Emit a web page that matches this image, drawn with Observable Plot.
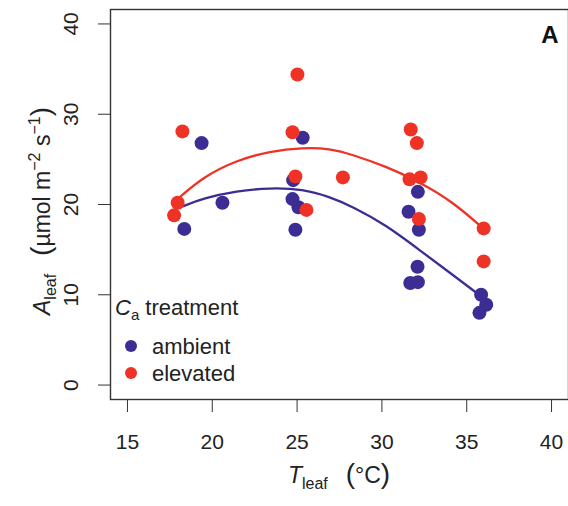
<!DOCTYPE html>
<html><head><meta charset="utf-8">
<script src="https://cdn.jsdelivr.net/npm/d3@7"></script>
<script src="https://cdn.jsdelivr.net/npm/@observablehq/plot@0.6"></script>
<style>
body{margin:0;background:#fff;}
svg{font-family:"Liberation Sans",Arial,Helvetica,sans-serif;}
</style>
</head><body><div id="chart"></div>
<script>
const treatments = ["ambient", "elevated"];
const colors = ["#3b2d93", "#ee3225"];
const xTicks = [15, 20, 25, 30, 35, 40];
const yTicks = [0, 10, 20, 30, 40];

const ambientT = [18.35, 19.37, 20.6, 24.77, 24.73, 25.08, 24.9, 25.33, 31.57, 32.12, 32.18, 32.1, 31.67, 32.12, 35.85, 36.15, 35.75];
const ambientA = [17.3, 26.8, 20.2, 22.7, 20.6, 19.7, 17.2, 27.4, 19.2, 21.4, 17.2, 13.1, 11.3, 11.4, 10.0, 8.9, 8.0];
const elevatedT = [18.24, 17.96, 17.75, 25.02, 24.73, 24.9, 25.55, 27.7, 31.7, 32.06, 31.63, 32.28, 32.18, 36.0, 36.0];
const elevatedA = [28.1, 20.2, 18.8, 34.4, 28.0, 23.1, 19.4, 23.0, 28.3, 26.8, 22.8, 23.0, 18.4, 17.35, 13.7];

const ambientFitT = [18.2, 19.47, 21.43, 23.4, 25.35, 26.9, 28.3, 30.26, 32.22, 34.18, 35.8];
const ambientFitA = [19.75, 20.7, 21.5, 21.85, 21.7, 20.85, 19.75, 17.7, 14.95, 12.2, 9.9];
const elevatedFitT = [17.95, 19.47, 21.43, 23.4, 25.35, 26.9, 28.3, 30.26, 32.22, 34.18, 36.0];
const elevatedFitA = [20.6, 23.07, 24.9, 25.9, 26.3, 26.2, 25.5, 24.2, 22.5, 20.3, 17.3];

const pts = [
  ...ambientT.map((t, i) => ({T: t, A: ambientA[i], g: treatments[0]})),
  ...elevatedT.map((t, i) => ({T: t, A: elevatedA[i], g: treatments[1]}))
];
const fits = [
  ...ambientFitT.map((t, i) => ({T: t, A: ambientFitA[i], g: treatments[0]})),
  ...elevatedFitT.map((t, i) => ({T: t, A: elevatedFitA[i], g: treatments[1]}))
];

const plot = Plot.plot({
  width: 568, height: 506,
  marginLeft: 110, marginRight: 0, marginTop: 9, marginBottom: 107,
  style: {fontFamily: '"Liberation Sans", Arial, sans-serif', background: "#fff"},
  x: {domain: [14, 41]},
  y: {domain: [-1.6, 41.6]},
  color: {domain: treatments, range: colors},
  marks: [
    Plot.axisX({ticks: xTicks, tickSize: 13, tickPadding: 22, fontSize: 21, label: null, stroke: "#333", color: "#222"}),
    Plot.axisY({ticks: yTicks, tickSize: 12, tickPadding: 21, tickRotate: -90, fontSize: 21, label: null, stroke: "#333", color: "#222"}),
    Plot.line(fits, {x: "T", y: "A", stroke: "g", z: "g", curve: "basis", strokeWidth: 2.3}),
    Plot.dot(pts, {x: "T", y: "A", fill: "g", r: 7}),
    Plot.text(["A"], {frameAnchor: "top-right", dx: -10, dy: 16, text: d => d, fontSize: 24, fontWeight: "bold", fill: "#111"}),
    Plot.frame({stroke: "#333", strokeWidth: 1.4})
  ]
});

const svg = d3.select(plot);
const xs = plot.scale("x").range, ys = plot.scale("y").range;
const cx = (xs[0] + xs[1]) / 2, cy = (ys[0] + ys[1]) / 2;

// x axis title
const xt = svg.append("text").attr("x", cx).attr("y", 483).attr("text-anchor", "middle")
  .attr("font-size", 23).attr("fill", "#222").attr("xml:space", "preserve");
xt.append("tspan").attr("font-style", "italic").text("T");
xt.append("tspan").attr("font-size", 16).attr("dy", 6).text("leaf");
xt.append("tspan").attr("dy", -6).text("\u2002 ");
xt.append("tspan").attr("font-size", 28).text("(");
xt.append("tspan").text("°C");
xt.append("tspan").attr("font-size", 28).text(")");

// y axis title
const yt = svg.append("text").attr("transform", `translate(50,${cy + 7}) rotate(-90)`)
  .attr("text-anchor", "middle").attr("font-size", 23).attr("fill", "#222").attr("xml:space", "preserve");
yt.append("tspan").attr("font-style", "italic").text("A");
yt.append("tspan").attr("font-size", 16).attr("dy", 6).text("leaf");
yt.append("tspan").attr("dy", -6).text("\u2002 ");
yt.append("tspan").attr("font-size", 28).text("(");
yt.append("tspan").text("µmol m");
yt.append("tspan").attr("font-size", 16).attr("dy", -10).text("−2");
yt.append("tspan").attr("dy", 10).text(" s");
yt.append("tspan").attr("font-size", 16).attr("dy", -10).text("−1");
yt.append("tspan").attr("dy", 10).attr("font-size", 28).text(")");

// legend
const lg = svg.append("g").attr("fill", "#222").attr("text-anchor", "start");
const lt = lg.append("text").attr("x", 115).attr("y", 315).attr("font-size", 22).attr("text-anchor", "start");
lt.append("tspan").attr("font-style", "italic").text("C");
lt.append("tspan").attr("font-size", 15).attr("dy", 5).text("a");
lt.append("tspan").attr("dy", -5).text(" treatment");
treatments.forEach((t, i) => {
  const y = 346 + i * 27;
  lg.append("circle").attr("cx", 131).attr("cy", y).attr("r", 6).attr("fill", colors[i]);
  lg.append("text").attr("x", 152).attr("y", y + 8).attr("font-size", 22).attr("text-anchor", "start").text(t);
});

document.getElementById("chart").appendChild(plot);
</script>
</body></html>
